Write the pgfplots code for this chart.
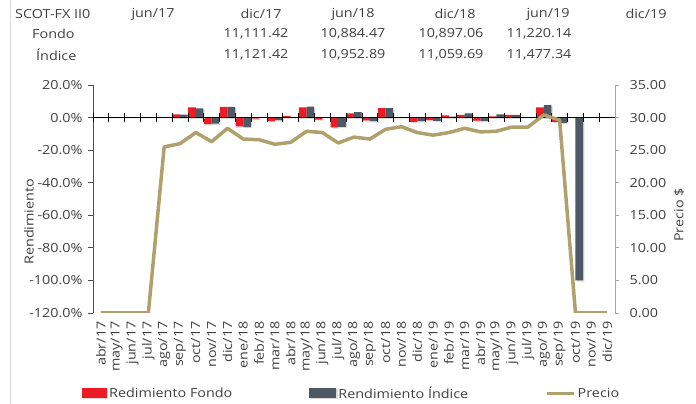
\documentclass[border=0pt]{standalone}
\usepackage{pgfplots}
\usepackage{pgfplotstable}
\pgfplotsset{compat=1.18}
\usepackage{fontspec}
\setmainfont{Open Sans}[FakeStretch=1.15]
\definecolor{fondo}{RGB}{237,28,36}
\definecolor{indice}{RGB}{79,88,101}
\definecolor{precio}{RGB}{176,160,107}
\definecolor{txt}{RGB}{64,64,64}
\newcommand{\cf}{\fontsize{12.5}{15}\selectfont}

\pgfplotstableread{
x F I P
0 0 0 0
1 0 0 0
2 0 0 0
3 0 0 0
4 0 0 25.5
5 2.0 1.8 26.0
6 6.3 5.7 27.7
7 -4.0 -3.7 26.3
8 6.6 6.6 28.35
9 -5.4 -5.8 26.7
10 -0.7 -0.1 26.6
11 -2.2 -1.6 25.9
12 0.9 0.1 26.2
13 6.3 6.7 27.9
14 -1.2 -0.1 27.7
15 -6.0 -5.7 26.1
16 2.5 3.4 27.0
17 -1.7 -2.2 26.7
18 5.8 5.8 28.2
19 -0.4 0.2 28.6
20 -2.6 -2.2 27.7
21 -1.6 -2.0 27.3
22 1.3 0.6 27.7
23 1.7 2.6 28.35
24 -1.9 -2.0 27.8
25 0.7 1.9 27.9
26 1.6 1.7 28.55
27 0.1 0.1 28.55
28 6.2 7.7 30.4
29 -2.6 -3.3 29.6
30 0 -100 0
31 0 0 0
32 0 0 0
}\data

\pgfplotsset{base/.style={
  at={(93pt,91pt)}, anchor=south west,
  width=522pt, height=228pt, scale only axis,
  xmin=-0.5, xmax=32.5,
}}

\begin{document}
\begin{tikzpicture}
\useasboundingbox (0,0) rectangle (696pt,404pt);
\draw[black!15, line width=1pt] (10pt,0pt) -- (10pt,404pt);

% top table
\begin{scope}[every node/.style={font=\cf, text=txt, inner sep=0pt}]
\node[anchor=west] at (15pt,390pt) {SCOT-FX II0};
\node at (153pt,390pt) {jun/17};
\node at (261pt,390pt) {dic/17};
\node at (353pt,390pt) {jun/18};
\node at (455pt,390pt) {dic/18};
\node at (548pt,390pt) {jun/19};
\node at (646pt,390pt) {dic/19};
\node[anchor=west] at (32pt,370pt) {Fondo};
\node at (256pt,370pt) {11,111.42};
\node at (353pt,370pt) {10,884.47};
\node at (451pt,370pt) {10,897.06};
\node at (539pt,370pt) {11,220.14};
\node[anchor=west] at (36pt,349pt) {Índice};
\node at (256pt,349pt) {11,121.42};
\node at (353pt,349pt) {10,952.89};
\node at (451pt,349pt) {11,059.69};
\node at (539pt,349pt) {11,477.34};
\end{scope}

% left axis with bars
\begin{axis}[base,
  ymin=-120, ymax=20, ytick={-120,-100,...,20},
  axis y line*=left, axis x line*=bottom,
  x axis line style={draw=none}, xtick style={draw=none},
  y axis line style={draw=black!70, line width=0.8pt},
  ytick style={draw=black!70, line width=0.8pt},
  tick align=outside, major tick length=5pt,
  yticklabel={\pgfmathprintnumber[fixed,fixed zerofill,precision=1,assume math mode=true]{\tick}\%},
  yticklabel style={font=\cf, text=txt, xshift=-2pt},
  xtick={0,...,32},
  xticklabels={abr/17,may/17,jun/17,jul/17,ago/17,sep/17,oct/17,nov/17,dic/17,ene/18,feb/18,mar/18,abr/18,may/18,jun/18,jul/18,ago/18,sep/18,oct/18,nov/18,dic/18,ene/19,feb/19,mar/19,abr/19,may/19,jun/19,jul/19,ago/19,sep/19,oct/19,nov/19,dic/19},
  xticklabel style={font=\cf, text=txt, rotate=90, anchor=east},
  ylabel={Rendimiento},
  ylabel style={at={(axis description cs:-0.1226,0.40)}, anchor=center, font=\cf, text=txt},
  ybar=0pt, bar width=7.6pt,
  legend columns=3,
  legend style={at={(axis description cs:-0.021,-0.352)}, anchor=west, draw=none, fill=none,
    font=\cf, text=txt, inner sep=0pt,
    /tikz/every even column/.append style={column sep=75pt}},
]
\addplot[fill=fondo, draw=none,
  preaction={fill=black!15, transform canvas={xshift=1.2pt,yshift=-1.2pt}},
  legend image code/.code={\fill[fondo] (0pt,-5pt) rectangle (25pt,5pt);}]
  table[x=x,y=F]{\data};
\addlegendentry{Redimiento Fondo}
\addplot[fill=indice, draw=none,
  preaction={fill=black!15, transform canvas={xshift=1.2pt,yshift=-1.2pt}},
  legend image code/.code={\fill[indice] (0pt,-5pt) rectangle (27pt,5pt);}]
  table[x=x,y=I]{\data};
\addlegendentry{Rendimiento Índice}
\addlegendimage{legend image code/.code={\draw[precio, line width=3.5pt] (0pt,0pt) -- (27pt,0pt);}}
\addlegendentry{Precio}
\end{axis}

% zero line with category ticks
\begin{axis}[base,
  ymin=-120, ymax=20,
  axis x line=middle, axis y line=none,
  xtick={-0.5,0.5,...,32.5}, xticklabels={},
  tick align=center, major tick length=9pt,
  x axis line style={-, draw=black, line width=1pt},
  xtick style={draw=black, line width=0.8pt},
]
\addplot[draw=none] coordinates {(0,0)};
\end{axis}

% right axis with price line
\begin{axis}[base,
  ymin=0, ymax=35, ytick={0,5,...,35},
  axis y line*=right, axis x line=none,
  y axis line style={draw=black!35, line width=0.8pt},
  ytick style={draw=black!35, line width=0.8pt},
  tick align=outside, major tick length=4pt,
  yticklabel={\pgfmathprintnumber[fixed,fixed zerofill,precision=2,assume math mode=true]{\tick}},
  yticklabel style={font=\cf, text=txt, xshift=7pt},
  ylabel={Precio \$},
  ylabel style={at={(axis description cs:1.1226,0.43)}, anchor=center, font=\cf, text=txt},
]
\addplot[precio, line width=3.5pt, line join=round, mark=none] table[x=x,y=P]{\data};
\end{axis}
\end{tikzpicture}
\end{document}
